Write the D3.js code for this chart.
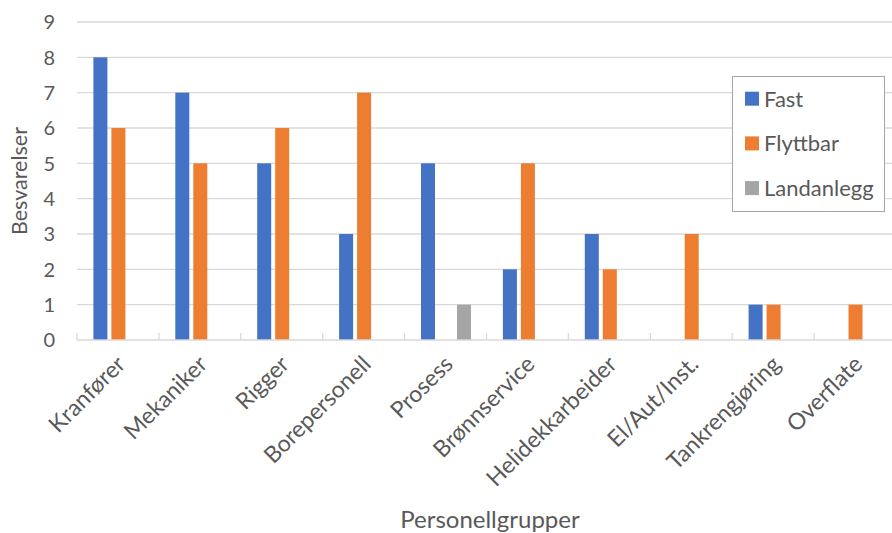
<!DOCTYPE html>
<html><head><meta charset="utf-8">
<script src="https://cdn.jsdelivr.net/npm/d3@7"></script>
<style>body{margin:0;background:#fff;} text{font-family:Lato,"Open Sans",sans-serif;fill:#595959;}</style>
</head><body>
<svg id="c" width="892" height="533"></svg>
<script>
const categories = ["Kranfører","Mekaniker","Rigger","Borepersonell","Prosess","Brønnservice","Helidekkarbeider","El/Aut/Inst.","Tankrengjøring","Overflate"];
const seriesNames = ["Fast","Flyttbar","Landanlegg"];
const fast = [8,7,5,3,5,2,3,0,1,0];
const flyttbar = [6,5,6,7,0,5,2,3,1,1];
const landanlegg = [0,0,0,0,1,0,0,0,0,0];
const yTicks = [0,1,2,3,4,5,6,7,8,9];
const colors = ["#4472C4","#ED7D31","#A5A5A5"];
const seriesValues = [fast, flyttbar, landanlegg];

const svg = d3.select("#c");
const x0 = d3.scaleBand().domain(categories).range([77, 896]).padding(0);
const x1 = d3.scaleBand().domain(seriesNames).range([16.4, 66.4]).paddingInner(4/18).paddingOuter(0);
const y = d3.scaleLinear().domain([0, 9]).range([340, 22]);

// gridlines
svg.append("g").selectAll("line").data(yTicks.filter(d => d > 0)).join("line")
  .attr("x1", 77).attr("x2", 892).attr("y1", d => y(d)).attr("y2", d => y(d))
  .attr("stroke", "#d9d9d9").attr("stroke-width", 1.3);

// y labels
svg.append("g").selectAll("text").data(yTicks).join("text")
  .attr("x", 55).attr("y", d => y(d)).attr("dy", "0.36em")
  .attr("text-anchor", "end").attr("font-size", 20).text(d => d);

// bars
const data = [];
categories.forEach((c, i) => seriesNames.forEach((s, j) => {
  if (seriesValues[j][i] > 0) data.push({c, s, v: seriesValues[j][i], j});
}));
svg.append("g").selectAll("rect").data(data).join("rect")
  .attr("x", d => x0(d.c) + x1(d.s)).attr("width", x1.bandwidth())
  .attr("y", d => y(d.v)).attr("height", d => y(0) - y(d.v))
  .attr("fill", d => colors[d.j]);

// x axis line and ticks
svg.append("line").attr("x1", 77).attr("x2", 892).attr("y1", y(0)).attr("y2", y(0))
  .attr("stroke", "#d9d9d9").attr("stroke-width", 1.3);
const tickPos = categories.map(c => x0(c));
svg.append("g").selectAll("line").data(tickPos).join("line")
  .attr("x1", d => d).attr("x2", d => d).attr("y1", y(0)).attr("y2", y(0) - 7)
  .attr("stroke", "#d9d9d9").attr("stroke-width", 1.3);

// x labels
svg.append("g").selectAll("text").data(categories).join("text")
  .attr("transform", d => `translate(${x0(d) + x0.bandwidth()/2 + 3},${360}) rotate(-45)`)
  .attr("text-anchor", "end").attr("dy", "0.35em").attr("font-size", 23).text(d => d);

// axis titles
svg.append("text").attr("transform", `translate(27,${(y(0)+y(9))/2}) rotate(-90)`)
  .attr("text-anchor", "middle").attr("font-size", 21.5).text("Besvarelser");
svg.append("text").attr("x", 490).attr("y", 528)
  .attr("text-anchor", "middle").attr("font-size", 24).text("Personellgrupper");

// legend
const lg = svg.append("g");
lg.append("rect").attr("x", 732.5).attr("y", 76.5).attr("width", 152).attr("height", 135)
  .attr("fill", "#fff").attr("stroke", "#a6a6a6").attr("stroke-width", 1);
seriesNames.forEach((s, j) => {
  const cy = 98.7 + j * 44.7;
  lg.append("rect").attr("x", 745).attr("y", cy - 7).attr("width", 14).attr("height", 14).attr("fill", colors[j]);
  lg.append("text").attr("x", 764).attr("y", cy).attr("dy", "0.36em").attr("font-size", 22).text(s);
});
</script>
</body></html>
